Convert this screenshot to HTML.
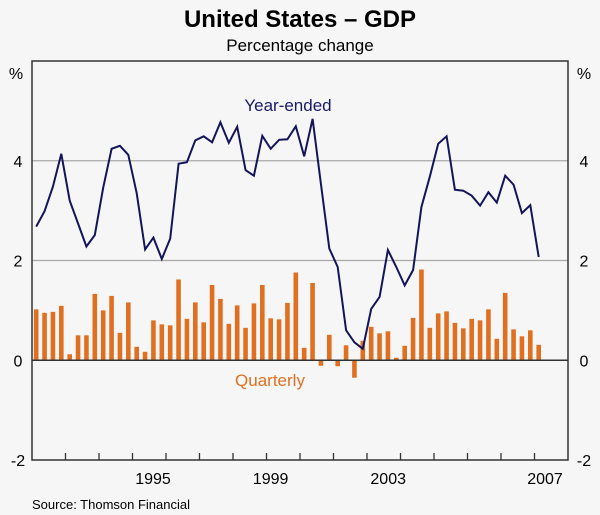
<!DOCTYPE html>
<html><head><meta charset="utf-8"><style>
body{margin:0;background:#f6f6f6;}
svg{display:block;font-family:"Liberation Sans",Arial,sans-serif;}
</style></head><body>
<svg id="chart" width="600" height="515" viewBox="0 0 600 515">
<rect width="600" height="515" fill="#f6f6f6"/>
<text x="300" y="27" text-anchor="middle" font-size="24" font-weight="bold" fill="#000">United States – GDP</text>
<text x="300" y="51" text-anchor="middle" font-size="17" fill="#000">Percentage change</text>
<g id="grid"></g>
<g id="bars"></g>
<g id="line"></g>
<g id="axes"></g>
<text x="288" y="111" text-anchor="middle" font-size="17" fill="#1a1a66">Year-ended</text>
<text x="270" y="386" text-anchor="middle" font-size="17" fill="#e07020">Quarterly</text>
<text x="32" y="509" font-size="13" fill="#000">Source: Thomson Financial</text>
</svg>
<script>
const yearTicks = [1995, 1999, 2003, 2007];
const yTicks = [-2, 0, 2, 4];
const quarterly = [1.02,0.95,0.97,1.09,0.12,0.5,0.5,1.33,1.0,1.29,0.55,1.16,0.27,0.17,0.8,0.72,0.7,1.62,0.83,1.16,0.76,1.51,1.23,0.73,1.1,0.65,1.14,1.51,0.84,0.82,1.15,1.76,0.25,1.55,-0.11,0.51,-0.12,0.3,-0.35,0.39,0.67,0.54,0.58,0.05,0.29,0.85,1.82,0.65,0.94,0.98,0.75,0.64,0.83,0.8,1.02,0.43,1.35,0.62,0.48,0.6,0.31];
const yearEnded = [2.68,2.99,3.48,4.14,3.2,2.74,2.28,2.51,3.46,4.24,4.3,4.12,3.35,2.22,2.46,2.03,2.44,3.94,3.97,4.41,4.49,4.37,4.77,4.36,4.68,3.81,3.7,4.5,4.24,4.42,4.43,4.69,4.09,4.84,3.54,2.24,1.87,0.6,0.36,0.23,1.03,1.27,2.21,1.87,1.5,1.81,3.07,3.68,4.34,4.49,3.42,3.4,3.3,3.1,3.37,3.16,3.7,3.52,2.95,3.11,2.07];
const startYear = 1992;

const L=32,R=568,T=61,B=460,yMin=-2,yMax=6,x0=1992,x1=2008;
const NS='http://www.w3.org/2000/svg';
function xs(t){return L+(t-x0)/(x1-x0)*(R-L);}
function ys(v){return B-(v-yMin)/(yMax-yMin)*(B-T);}
function lx(y,i,n){return i===n-1?545:153+(y-1995)*29.4;}
function mk(tag,attrs,parent){const e=document.createElementNS(NS,tag);for(const k in attrs)e.setAttribute(k,attrs[k]);parent.appendChild(e);return e;}
const grid=document.getElementById('grid'),bars=document.getElementById('bars'),line=document.getElementById('line'),axes=document.getElementById('axes');

yTicks.forEach(v=>{
  if(v!==0&&v!==yMin){const g=mk('line',{x1:L,x2:R,y1:ys(v),y2:ys(v),stroke:'#a8a8a8','stroke-width':1.3},grid);
  
  }
  const a=mk('text',{x:18,y:ys(v)+6,'text-anchor':'middle','font-size':16},axes);a.textContent=v;
  
  
  const b=mk('text',{x:584,y:ys(v)+6,'text-anchor':'middle','font-size':16},axes);b.textContent=v;
  
  
});
[[16,'left-unit'],[584,'right-unit']].forEach(p=>{const t=mk('text',{x:p[0],y:79,'text-anchor':'middle','font-size':16},axes);t.textContent='%';
  
  });

quarterly.forEach((v,i)=>{
  const cx=xs(startYear+(i+0.5)/4);
  const r=mk('rect',{x:cx-2.3,y:Math.min(ys(v),ys(0)),width:4.6,height:Math.abs(ys(v)-ys(0)),fill:'#e07020'},bars);
  
  
});
const pts=yearEnded.map((v,i)=>xs(startYear+(i+0.5)/4).toFixed(1)+','+ys(v).toFixed(1)).join(' ');
const pl=mk('polyline',{points:pts,fill:'none',stroke:'#14145a','stroke-width':2,'stroke-linejoin':'miter'},line);



const zl=mk('line',{x1:L,x2:R,y1:ys(0),y2:ys(0),stroke:'#333','stroke-width':1.5},axes);


const fr=mk('rect',{x:L,y:T,width:R-L,height:B-T,fill:'none',stroke:'#333','stroke-width':1.5},axes);


for(let y=x0+1;y<x1;y++){const t=mk('line',{x1:xs(y),x2:xs(y),y1:B,y2:B-7,stroke:'#333','stroke-width':1.3},axes);
  
  }
yearTicks.forEach((y,i)=>{const t=mk('text',{x:lx(y,i,yearTicks.length),y:484,'text-anchor':'middle','font-size':16},axes);t.textContent=y;
  
  });
</script>
</body></html>
